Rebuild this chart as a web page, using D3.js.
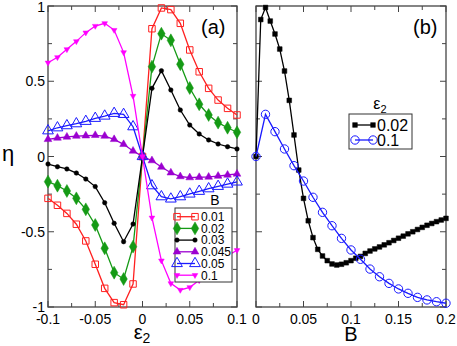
<!DOCTYPE html>
<html>
<head>
<meta charset="utf-8">
<script src="https://cdn.jsdelivr.net/npm/d3@7"></script>
<style>
  body { margin: 0; background: #fff; }
  text { font-family: "Liberation Sans", Arial, sans-serif; }
</style>
</head>
<body>
<svg id="chart" width="457" height="346"></svg>
<script>
// panel (a): eta vs eps2 for several B
const eps2 = [-0.1, -0.09, -0.08, -0.07, -0.06, -0.05, -0.04, -0.03, -0.02, -0.01, 0,
              0.01, 0.02, 0.03, 0.04, 0.05, 0.06, 0.07, 0.08, 0.09, 0.1];
const etaB001 = [-0.278, -0.324, -0.378, -0.45, -0.561, -0.716, -0.876, -0.971, -0.985, -0.847, 0,
                 0.849, 0.987, 0.976, 0.885, 0.708, 0.563, 0.453, 0.375, 0.32, 0.276];
const etaB002 = [-0.167, -0.194, -0.229, -0.278, -0.351, -0.455, -0.61, -0.772, -0.814, -0.599, 0,
                 0.597, 0.816, 0.772, 0.613, 0.455, 0.347, 0.276, 0.225, 0.191, 0.161];
const etaB003 = [-0.05, -0.068, -0.083, -0.11, -0.15, -0.2, -0.307, -0.444, -0.566, -0.449, 0,
                 0.453, 0.57, 0.442, 0.309, 0.209, 0.15, 0.11, 0.083, 0.065, 0.05];
const etaB0045 = [0.114, 0.123, 0.13, 0.136, 0.138, 0.141, 0.136, 0.114, 0.081, 0.037, 0,
                  -0.027, -0.07, -0.108, -0.133, -0.14, -0.138, -0.136, -0.13, -0.123, -0.116];
const etaB005 = [0.171, 0.191, 0.205, 0.218, 0.234, 0.254, 0.269, 0.287, 0.28, 0.198, 0,
                 -0.194, -0.267, -0.282, -0.267, -0.249, -0.231, -0.214, -0.198, -0.183, -0.169];
const etaB01 = [0.623, 0.659, 0.712, 0.765, 0.823, 0.867, 0.885, 0.84, 0.692, 0.402, 0,
                -0.407, -0.692, -0.843, -0.887, -0.869, -0.823, -0.765, -0.712, -0.659, -0.623];
const bLabels = ["0.01", "0.02", "0.03", "0.045", "0.05", "0.1"];

// panel (b): eta vs B for two eps2
const bFine = [0, 0.005, 0.01, 0.015, 0.02, 0.025, 0.03, 0.035, 0.04, 0.045, 0.05,
               0.055, 0.06, 0.065, 0.07, 0.075, 0.08, 0.085, 0.09, 0.095, 0.1,
               0.105, 0.11, 0.115, 0.12, 0.125, 0.13, 0.135, 0.14, 0.145, 0.15,
               0.155, 0.16, 0.165, 0.17, 0.175, 0.18, 0.185, 0.19, 0.195, 0.2];
const etaE002 = [0, 0.91, 0.99, 0.9, 0.814, 0.714, 0.568, 0.373, 0.143, -0.09, -0.278,
                 -0.427, -0.539, -0.617, -0.661, -0.692, -0.714, -0.721, -0.716, -0.706, -0.692,
                 -0.676, -0.664, -0.644, -0.628, -0.614, -0.601, -0.587, -0.573, -0.558, -0.543,
                 -0.529, -0.514, -0.5, -0.485, -0.471, -0.457, -0.445, -0.433, -0.422, -0.411];
const bCoarse = [0, 0.01, 0.02, 0.03, 0.04, 0.05, 0.06, 0.07, 0.08, 0.09, 0.1,
                 0.11, 0.12, 0.13, 0.14, 0.15, 0.16, 0.17, 0.18, 0.19, 0.2];
const etaE01 = [0, 0.28, 0.165, 0.05, -0.061, -0.163, -0.271, -0.371, -0.46, -0.544, -0.621,
                -0.683, -0.748, -0.799, -0.843, -0.88, -0.909, -0.936, -0.953, -0.965, -0.975];
const eLabels = ["0.02", "0.1"];

const svg = d3.select("#chart");
const yTop = 6, yBot = 307;
const y = d3.scaleLinear().domain([-1, 1]).range([yBot, yTop]);
const xa = d3.scaleLinear().domain([-0.1, 0.1]).range([48, 237]);
const xb = d3.scaleLinear().domain([0, 0.2]).range([256, 446]);

const axisCol = "#444";

function frame(x, xMajor, xMinor, xFmt, yLabels) {
  const g = svg.append("g");
  const [x0, x1] = x.range();
  const yMajor = [-1, -0.5, 0, 0.5, 1], yMinor = [-0.75, -0.25, 0.25, 0.75];
  // ticks pointing inward on all four sides
  xMajor.concat(xMinor).forEach(v => {
    const len = xMajor.includes(v) ? 6 : 4;
    g.append("line").attr("x1", x(v)).attr("x2", x(v)).attr("y1", yBot).attr("y2", yBot - len)
      .attr("stroke", axisCol);
    g.append("line").attr("x1", x(v)).attr("x2", x(v)).attr("y1", yTop).attr("y2", yTop + len)
      .attr("stroke", axisCol);
  });
  yMajor.concat(yMinor).forEach(v => {
    const len = yMajor.includes(v) ? 6 : 4;
    g.append("line").attr("x1", x0).attr("x2", x0 + len).attr("y1", y(v)).attr("y2", y(v))
      .attr("stroke", axisCol);
    g.append("line").attr("x1", x1).attr("x2", x1 - len).attr("y1", y(v)).attr("y2", y(v))
      .attr("stroke", axisCol);
  });
  g.append("rect").attr("x", x0).attr("y", yTop).attr("width", x1 - x0).attr("height", yBot - yTop)
    .attr("fill", "none").attr("stroke", axisCol).attr("stroke-width", 1.3);
  xMajor.forEach(v => {
    g.append("text").attr("x", x(v)).attr("y", yBot + 17).attr("text-anchor", "middle")
      .attr("font-size", 14).text(xFmt(v));
  });
  if (yLabels) {
    yMajor.forEach(v => {
      g.append("text").attr("x", x0 - 3).attr("y", Math.max(y(v) + 5, 12)).attr("text-anchor", "end")
        .attr("font-size", 14).text(xFmt(v));
    });
  }
}

const fmt = v => (Math.abs(v) < 1e-9 ? "0" : String(+v.toFixed(3)));
frame(xa, [-0.1, -0.05, 0, 0.05, 0.1], [-0.075, -0.025, 0.025, 0.075], fmt, true);
frame(xb, [0, 0.05, 0.1, 0.15, 0.2], [0.025, 0.075, 0.125, 0.175], fmt, false);

// marker shapes
const sym = {
  square: d3.symbol().type(d3.symbolSquare).size(42)(),
  diamond: d3.symbol().type(d3.symbolDiamond).size(48)(),
  circle: d3.symbol().type(d3.symbolCircle).size(16)(),
  tri: d3.symbol().type(d3.symbolTriangle).size(26)(),
  triBig: d3.symbol().type(d3.symbolTriangle).size(50)(),
  triDown: d3.symbol().type(d3.symbolTriangle).size(14)(),
  sqFill: d3.symbol().type(d3.symbolSquare).size(22)(),
  ring: d3.symbol().type(d3.symbolCircle).size(55)()
};

const seriesA = [
  {vals: etaB001, color: "#ff2020", shape: "square", fill: false},
  {vals: etaB002, color: "#159a15", shape: "diamond", fill: true},
  {vals: etaB003, color: "#000000", shape: "circle", fill: true},
  {vals: etaB0045, color: "#9b00d0", shape: "tri", fill: true},
  {vals: etaB005, color: "#1a1aff", shape: "triBig", fill: false},
  {vals: etaB01, color: "#ff00ff", shape: "triDown", fill: true, rot: 180}
];

function marker(g, s, px, py) {
  g.append("path").attr("d", sym[s.shape])
    .attr("transform", `translate(${px},${py})` + (s.rot ? ` rotate(${s.rot})` : ""))
    .attr("fill", s.fill ? s.color : "none")
    .attr("stroke", s.color).attr("stroke-width", s.fill ? 0.5 : 1);
}

function drawSeries(xs, xScale, s) {
  const g = svg.append("g");
  const pts = xs.map((v, i) => [xScale(v), y(s.vals[i])]);
  g.append("path").attr("d", d3.line()(pts)).attr("fill", "none")
    .attr("stroke", s.color).attr("stroke-width", 1.3);
  pts.forEach(p => marker(g, s, p[0], p[1]));
}

seriesA.forEach(s => drawSeries(eps2, xa, s));

const seriesB = [
  {vals: etaE002, xs: bFine, color: "#000000", shape: "sqFill", fill: true},
  {vals: etaE01, xs: bCoarse, color: "#1a1aff", shape: "ring", fill: false}
];
seriesB.forEach(s => drawSeries(s.xs, xb, s));

// legend (a)
const legA = svg.append("g");
legA.append("rect").attr("x", 175).attr("y", 208).attr("width", 57).attr("height", 74)
  .attr("fill", "#fff").attr("stroke", "#333").attr("stroke-width", 1);
legA.append("text").attr("x", 215).attr("y", 205).attr("text-anchor", "middle")
  .attr("font-size", 14).text("B");
seriesA.forEach((s, i) => {
  const cy = 216.7 + i * 11.7;
  legA.append("line").attr("x1", 177).attr("x2", 195).attr("y1", cy).attr("y2", cy)
    .attr("stroke", s.color).attr("stroke-width", 1.3);
  marker(legA, s, 177, cy);
  marker(legA, s, 195, cy);
  legA.append("text").attr("x", 201).attr("y", cy + 4.3).attr("font-size", 12).text(bLabels[i]);
});

// legend (b)
const legB = svg.append("g");
legB.append("rect").attr("x", 349).attr("y", 114).attr("width", 63).attr("height", 35)
  .attr("fill", "#fff").attr("stroke", "#333").attr("stroke-width", 1);
const tB = legB.append("text").attr("x", 380).attr("y", 109).attr("text-anchor", "middle")
  .attr("font-size", 16);
tB.append("tspan").text("ε");
tB.append("tspan").attr("font-size", 11).attr("dy", 4).text("2");
seriesB.forEach((s, i) => {
  const cy = 125 + i * 15;
  legB.append("line").attr("x1", 355).attr("x2", 373).attr("y1", cy).attr("y2", cy)
    .attr("stroke", s.color).attr("stroke-width", 1.3);
  marker(legB, s, 355, cy);
  marker(legB, s, 373, cy);
  legB.append("text").attr("x", 377).attr("y", cy + 5.5).attr("font-size", 16).text(eLabels[i]);
});

// axis titles and panel tags
svg.append("text").attr("x", 2).attr("y", 161).attr("font-size", 22).text("η");
const ex = svg.append("text").attr("x", 142).attr("y", 339).attr("text-anchor", "middle")
  .attr("font-size", 20);
ex.append("tspan").text("ε");
ex.append("tspan").attr("font-size", 14).attr("dy", 4).text("2");
svg.append("text").attr("x", 351).attr("y", 341).attr("text-anchor", "middle")
  .attr("font-size", 20).text("B");
svg.append("text").attr("x", 201).attr("y", 34).attr("font-size", 20).text("(a)");
svg.append("text").attr("x", 413).attr("y", 34).attr("font-size", 20).text("(b)");
</script>
</body>
</html>
